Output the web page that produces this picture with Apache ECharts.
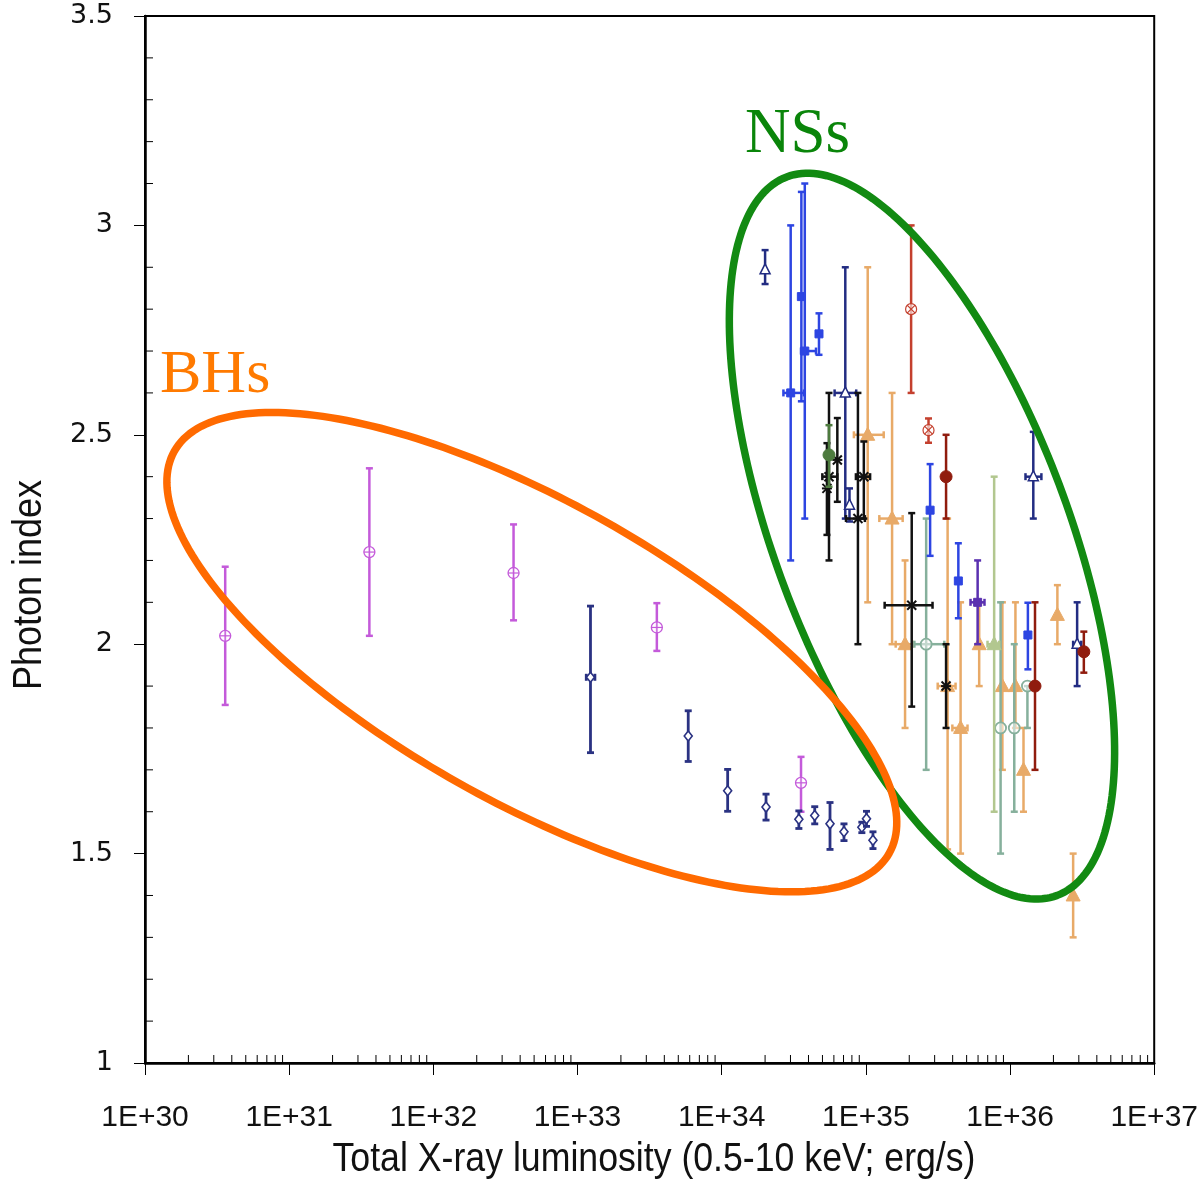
<!DOCTYPE html>
<html><head><meta charset="utf-8">
<script src="https://cdn.jsdelivr.net/npm/echarts@6/dist/echarts.min.js"></script>
<style>html,body{margin:0;padding:0;background:#fff;overflow:hidden}#c{width:1201px;height:1179px}</style>
</head><body><div id="c"></div>
<script>
// Rows: [luminosity (erg/s), photon index, index low, index high, lum low, lum high]
const bhMagenta = [
  [3.6e30, 2.020, 1.855, 2.185],
  [3.6e31, 2.220, 2.020, 2.420],
  [3.6e32, 2.170, 2.057, 2.286],
  [3.55e33, 2.040, 1.984, 2.098],
  [3.55e34, 1.669, 1.600, 1.731]
];
const bhNavy = [
  [1.23e33, 1.921, 1.741, 2.091, 1.15e33, 1.32e33],
  [5.86e33, 1.781, 1.720, 1.841],
  [1.10e34, 1.650, 1.601, 1.701],
  [2.03e34, 1.611, 1.580, 1.642],
  [3.43e34, 1.582, 1.560, 1.602],
  [4.42e34, 1.591, 1.571, 1.612],
  [5.64e34, 1.571, 1.510, 1.622],
  [7.05e34, 1.552, 1.531, 1.571],
  [9.38e34, 1.563, 1.550, 1.575],
  [1.01e35, 1.583, 1.565, 1.601],
  [1.12e35, 1.532, 1.512, 1.552]
];
const nsNavy = [
  [2.0e34, 2.894, 2.860, 2.941],
  [7.2e34, 2.600, 2.300, 2.900, 6.07e34, 8.57e34],
  [7.7e34, 2.332, 2.293, 2.372],
  [1.45e36, 2.400, 2.300, 2.507, 1.28e36, 1.65e36],
  [2.92e36, 2.000, 1.900, 2.100, 2.74e36, 3.12e36]
];
const nsBlue = [
  [3.01e34, 2.600, 2.200, 3.000, 2.68e34, 3.72e34],
  [3.57e34, 2.830, 2.580, 3.080],
  [3.77e34, 2.700, 2.300, 3.100, 3.55e34, 4.51e34],
  [4.73e34, 2.741, 2.691, 2.790],
  [2.79e35, 2.320, 2.211, 2.430],
  [4.38e35, 2.151, 2.062, 2.241],
  [1.33e36, 2.022, 1.940, 2.099]
];
const nsBlack = [
  [5.55e34, 2.400, 2.200, 2.600, 4.99e34, 6.34e34],
  [6.34e34, 2.440, 2.340, 2.540],
  [5.37e34, 2.372, 2.261, 2.480],
  [8.81e34, 2.300, 2.000, 2.600, 7.28e34, 9.84e34],
  [9.68e34, 2.400, 2.300, 2.484, 8.53e34, 1.07e35],
  [2.08e35, 2.093, 1.851, 2.313, 1.35e35, 2.90e35],
  [3.60e35, 1.900, 1.800, 2.000]
];
const nsDarkGreen = [
  [5.55e34, 2.452, 2.376, 2.523]
];
const nsTan = [
  [1.03e35, 2.500, 2.100, 2.900, 8.26e34, 1.33e35],
  [1.52e35, 2.300, 2.000, 2.600, 1.24e35, 1.80e35],
  [1.87e35, 2.000, 1.800, 2.200, 1.61e35, 2.11e35],
  [3.69e35, 1.900, 1.510, 2.300, 3.15e35, 4.19e35],
  [4.54e35, 1.800, 1.500, 2.100, 3.98e35, 5.07e35],
  [6.11e35, 2.000, 1.900, 2.100],
  [8.85e35, 1.900, 1.700, 2.100],
  [1.09e36, 1.900, 1.800, 2.100],
  [1.24e36, 1.700, 1.600, 1.800],
  [2.13e36, 2.070, 2.000, 2.141],
  [2.74e36, 1.400, 1.300, 1.500]
];
const nsSage = [
  [2.62e35, 2.000, 1.700, 2.300, 2.17e35, 3.50e35],
  [8.60e35, 1.800, 1.500, 2.100],
  [1.07e36, 1.800, 1.600, 2.000],
  [1.32e36, 1.900, 1.800, 1.900]
];
const nsOlive = [
  [7.76e35, 2.000, 1.600, 2.400, 6.98e35, 8.42e35]
];
const nsRed = [
  [2.06e35, 2.800, 2.600, 3.000],
  [2.72e35, 2.511, 2.481, 2.539]
];
const nsDarkRed = [
  [3.60e35, 2.400, 2.300, 2.500],
  [1.49e36, 1.900, 1.700, 2.100],
  [3.25e36, 1.982, 1.932, 2.030]
];
const nsPurple = [
  [5.96e35, 2.100, 2.000, 2.200, 5.32e35, 6.65e35]
];

// Axis decoration
const xDecades = [1e30, 1e31, 1e32, 1e33, 1e34, 1e35, 1e36];
const xMinorMult = [2, 3, 4, 5, 6, 7, 8, 9];
const yMinorTicks = [1.1,1.2,1.3,1.4,1.6,1.7,1.8,1.9,2.1,2.2,2.3,2.4,2.6,2.7,2.8,2.9,3.1,3.2,3.3,3.4];

// Annotation ellipses (center in data units, axes in decades / index units)
const bhEllipseCenter = [[4.82e32, 1.981]];
const nsEllipseCenter = [[2.45e35, 2.258]];

const sansFont = "'Liberation Sans', Arial, sans-serif";

function pad(rows) {
  return rows.map(r => [r[0], r[1], r[2], r[3], r[4] != null ? r[4] : null, r[5] != null ? r[5] : null]);
}

function ln(x1, y1, x2, y2, color, w) {
  return { type: 'line', shape: { x1, y1, x2, y2 }, style: { stroke: color, lineWidth: w } };
}

function markerShapes(kind, x, y, color) {
  const out = [];
  switch (kind) {
    case 'circplus':
      out.push({ type: 'circle', shape: { cx: x, cy: y, r: 5.5 }, style: { fill: 'rgba(255,255,255,0.7)', stroke: color, lineWidth: 1.3 } });
      out.push(ln(x - 5.5, y, x + 5.5, y, color, 1.2));
      out.push(ln(x, y - 5.5, x, y + 5.5, color, 1.2));
      break;
    case 'diamond':
      out.push({ type: 'polygon', shape: { points: [[x, y - 5], [x + 4, y], [x, y + 5], [x - 4, y]] }, style: { fill: '#fff', stroke: color, lineWidth: 1.6 } });
      break;
    case 'triOpen':
      out.push({ type: 'polygon', shape: { points: [[x, y - 6], [x + 5, y + 4], [x - 5, y + 4]] }, style: { fill: '#fff', stroke: color, lineWidth: 1.5 } });
      break;
    case 'triFilled':
      out.push({ type: 'polygon', shape: { points: [[x, y - 7.5], [x + 7, y + 5.5], [x - 7, y + 5.5]] }, style: { fill: color, stroke: color, lineWidth: 1 } });
      break;
    case 'circleFilled':
      out.push({ type: 'circle', shape: { cx: x, cy: y, r: 6 }, style: { fill: color, stroke: color, lineWidth: 1 } });
      break;
    case 'circleOpen':
      out.push({ type: 'circle', shape: { cx: x, cy: y, r: 5.5 }, style: { fill: 'rgba(255,255,255,0.5)', stroke: color, lineWidth: 1.8 } });
      break;
    case 'x':
      out.push(ln(x - 4.5, y - 4.5, x + 4.5, y + 4.5, color, 2));
      out.push(ln(x - 4.5, y + 4.5, x + 4.5, y - 4.5, color, 2));
      out.push(ln(x - 5, y, x + 5, y, color, 2));
      break;
    case 'circx':
      out.push({ type: 'circle', shape: { cx: x, cy: y, r: 5.5 }, style: { fill: 'rgba(255,255,255,0.6)', stroke: color, lineWidth: 1.2 } });
      out.push(ln(x - 4, y - 4, x + 4, y + 4, color, 1.2));
      out.push(ln(x - 4, y + 4, x + 4, y - 4, color, 1.2));
      break;
    case 'square':
      out.push({ type: 'rect', shape: { x: x - 4, y: y - 4, width: 8, height: 8 }, style: { fill: color, stroke: color, lineWidth: 1 } });
      break;
  }
  return out;
}

function errSeries(name, rows, color, marker, lw) {
  return {
    type: 'custom', name, silent: true, z: 5,
    dimensions: ['lum', 'gamma', 'lo', 'hi', 'lumLo', 'lumHi'],
    encode: { x: 0, y: 1 },
    data: pad(rows),
    renderItem: function (params, api) {
      const L = api.value(0), G = api.value(1), lo = api.value(2), hi = api.value(3);
      const xl = api.value(4), xh = api.value(5);
      const c = api.coord([L, G]);
      const pLo = api.coord([L, lo]), pHi = api.coord([L, hi]);
      const cap = 3.5;
      const ch = [];
      ch.push(ln(c[0], pLo[1], c[0], pHi[1], color, lw));
      ch.push(ln(c[0] - cap, pLo[1], c[0] + cap, pLo[1], color, lw));
      ch.push(ln(c[0] - cap, pHi[1], c[0] + cap, pHi[1], color, lw));
      if (isFinite(xl) && isFinite(xh) && xl > 0 && xh > 0) {
        const a = api.coord([xl, G]), b = api.coord([xh, G]);
        ch.push(ln(a[0], c[1], b[0], c[1], color, lw));
        ch.push(ln(a[0], c[1] - cap, a[0], c[1] + cap, color, lw));
        ch.push(ln(b[0], c[1] - cap, b[0], c[1] + cap, color, lw));
      }
      markerShapes(marker, c[0], c[1], color).forEach(s => ch.push(s));
      return { type: 'group', children: ch };
    }
  };
}

function ellipseSeries(center, u, v, color, z) {
  return {
    type: 'custom', silent: true, z: z,
    encode: { x: 0, y: 1 },
    data: center,
    renderItem: function (params, api) {
      const cx = Math.log10(api.value(0)), cy = api.value(1);
      const pts = [];
      for (let i = 0; i < 240; i++) {
        const t = i / 240 * Math.PI * 2;
        const lx = cx + Math.cos(t) * u[0] + Math.sin(t) * v[0];
        const ly = cy + Math.cos(t) * u[1] + Math.sin(t) * v[1];
        pts.push(api.coord([Math.pow(10, lx), ly]));
      }
      return { type: 'polygon', shape: { points: pts }, style: { fill: null, stroke: color, lineWidth: 7.5 } };
    }
  };
}

const xMinorData = [];
xDecades.forEach(d => xMinorMult.forEach(m => xMinorData.push([d * m, 1])));
const yMinorData = yMinorTicks.map(v => [1e30, v]);

const chart = echarts.init(document.getElementById('c'), null, { renderer: 'canvas', width: 1201, height: 1179 });
chart.setOption({
  animation: false,
  backgroundColor: '#fff',
  grid: { left: 145, right: 44, top: 16, bottom: 116, show: true, borderColor: '#000', borderWidth: 2, backgroundColor: 'transparent' },
  xAxis: {
    type: 'log', logBase: 10, min: 1e30, max: 1e37, splitNumber: 7, interval: 1,
    axisLine: { show: true, onZero: false, lineStyle: { color: '#000', width: 2.5 } },
    axisTick: { show: true, inside: false, length: 12, lineStyle: { color: '#000', width: 1 } },
    minorTick: { show: false },
    splitLine: { show: false },
    axisLabel: { margin: 40, fontFamily: sansFont, fontSize: 30, color: '#111', formatter: v => '1E+' + Math.round(Math.log10(v)) }
  },
  yAxis: {
    type: 'value', min: 1, max: 3.5, interval: 0.5,
    axisLine: { show: true, onZero: false, lineStyle: { color: '#000', width: 2.5 } },
    axisTick: { show: true, inside: false, length: 11, lineStyle: { color: '#000', width: 1 } },
    splitLine: { show: false },
    axisLabel: { margin: 32, fontFamily: 'DejaVu Sans', fontSize: 27, color: '#111' }
  },
  graphic: [
    { type: 'text', x: 654, y: 1160, scaleX: 0.87, style: { text: 'Total X-ray luminosity (0.5-10 keV; erg/s)', fontFamily: sansFont, fontSize: 41, fill: '#111', align: 'center', verticalAlign: 'middle' } },
    { type: 'text', x: 30, y: 585, rotation: Math.PI / 2, scaleX: 0.9, style: { text: 'Photon index', fontFamily: sansFont, fontSize: 40, fill: '#111', align: 'center', verticalAlign: 'middle' } },
    { type: 'text', x: 160, y: 376, style: { text: 'BHs', fontFamily: "'Liberation Serif', serif", fontSize: 62, fill: '#ff7a00', align: 'left', verticalAlign: 'middle' }, z: 20 },
    { type: 'text', x: 745, y: 135, style: { text: 'NSs', fontFamily: "'Liberation Serif', serif", fontSize: 63, fill: '#0a850a', align: 'left', verticalAlign: 'middle' }, z: 20 }
  ],
  series: [
    {
      type: 'custom', silent: true, z: 3, encode: { x: 0, y: 1 }, data: xMinorData,
      renderItem: (p, api) => { const c = api.coord([api.value(0), api.value(1)]); return ln(c[0], c[1], c[0], c[1] - 8, '#000', 1); }
    },
    {
      type: 'custom', silent: true, z: 3, encode: { x: 0, y: 1 }, data: yMinorData,
      renderItem: (p, api) => { const c = api.coord([api.value(0), api.value(1)]); return ln(c[0], c[1], c[0] + 8, c[1], '#000', 1); }
    },
    errSeries('BH magenta', bhMagenta, '#c45ada', 'circplus', 2.5),
    errSeries('BH navy', bhNavy, '#2a3282', 'diamond', 2.8),
    errSeries('NS tan', nsTan, '#e8aa68', 'triFilled', 2.5),
    errSeries('NS sage', nsSage, '#86b09c', 'circleOpen', 2.5),
    errSeries('NS olive', nsOlive, '#b2c78f', 'triFilled', 2.5),
    errSeries('NS blue', nsBlue, '#2d45e2', 'square', 2.5),
    errSeries('NS navy', nsNavy, '#222c82', 'triOpen', 2.5),
    errSeries('NS black', nsBlack, '#111111', 'x', 2.5),
    errSeries('NS dark green', nsDarkGreen, '#4d7b3e', 'circleFilled', 2.5),
    errSeries('NS red', nsRed, '#c4402e', 'circx', 2.5),
    errSeries('NS dark red', nsDarkRed, '#901c0e', 'circleFilled', 2.5),
    errSeries('NS purple', nsPurple, '#5a30b0', 'square', 2.5),
    ellipseSeries(nsEllipseCenter, [0.9387, -0.8577], [-0.951, -0.1241], '#128a12', 10),
    ellipseSeries(bhEllipseCenter, [2.480, -0.4795], [-0.507, -0.3125], '#ff6a00', 11)
  ]
});
</script>
</body></html>
